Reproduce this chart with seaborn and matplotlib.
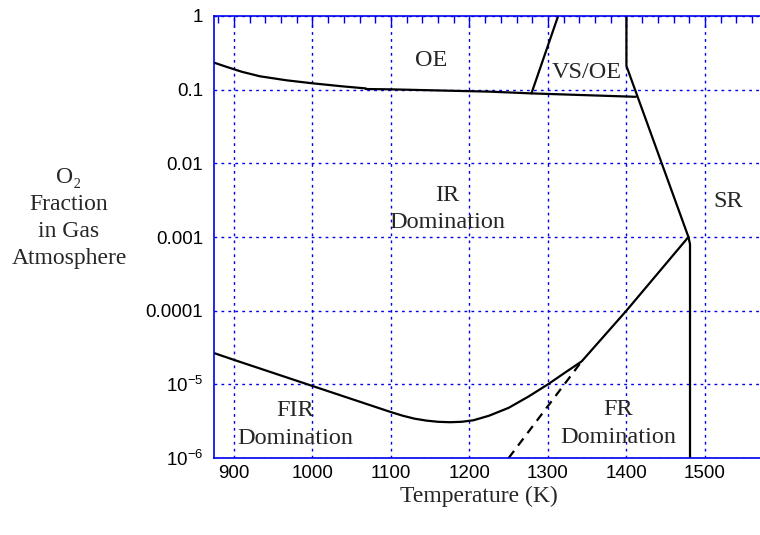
import numpy as np
import pandas as pd
import matplotlib
matplotlib.use("Agg")
import matplotlib.pyplot as plt
import matplotlib.ticker as mticker
import seaborn as sns

# ---- data ----
oe_low_T = [875, 890, 910, 933, 967, 1000, 1038, 1068]
oe_low_Y = [0.232, 0.205, 0.175, 0.152, 0.134, 0.122, 0.111, 0.104]
oe_high_T = [1068, 1100, 1226, 1279, 1412]
oe_high_Y = [0.102, 0.101, 0.094, 0.089, 0.080]
vs_T = [1279, 1313]
vs_Y = [0.089, 1.0]
sr_T = [1400, 1400, 1479, 1481, 1481]
sr_Y = [1.0, 0.21, 0.001, 0.0008, 1e-6]
fir_T = [875, 900, 1000, 1100, 1115, 1130, 1145, 1160, 1175, 1190, 1205, 1225,
         1250, 1275, 1300, 1320, 1343, 1400, 1479]
fir_Y = [2.65e-5, 2.15e-5, 9.5e-6, 4.2e-6, 3.75e-6, 3.42e-6, 3.22e-6, 3.1e-6,
         3.06e-6, 3.1e-6, 3.25e-6, 3.75e-6, 4.8e-6, 6.8e-6, 1.0e-5, 1.4e-5,
         2.05e-5, 1.0e-4, 1.0e-3]
fr_T = [1250, 1343]
fr_Y = [1e-6, 2.05e-5]

x_ticks = [900, 1000, 1100, 1200, 1300, 1400, 1500]
y_ticks = [1e-6, 1e-5, 1e-4, 1e-3, 1e-2, 1e-1, 1]
y_labels = [r"$10^{-6}$", r"$10^{-5}$", "0.0001", "0.001", "0.01", "0.1", "1"]

regions = [
    ("OE", 1151, 0.245),
    ("VS/OE", 1349, 0.170),
    ("IR\nDomination", 1172, 2.4e-3),
    ("SR", 1529, 3.0e-3),
    ("FIR\nDomination", 978, 2.85e-6),
    ("FR\nDomination", 1389, 2.95e-6),
]

sns.set_style("white")
plt.rcParams["mathtext.fontset"] = "custom"
plt.rcParams["mathtext.rm"] = "Liberation Sans"
plt.rcParams["mathtext.it"] = "Liberation Sans"
plt.rcParams["font.family"] = ["Liberation Sans", "DejaVu Sans"]

BLUE = "#0000ee"
SERIF = ["Liberation Serif", "DejaVu Serif"]

fig = plt.figure(figsize=(7.6, 5.35), dpi=100)
ax = fig.add_axes([214.3 / 760, 77 / 535, (1575 - 875) * 0.785 / 760, 442 / 535])

lw = 1.6
for T, Y in [(oe_low_T, oe_low_Y), (oe_high_T, oe_high_Y), (vs_T, vs_Y),
             (sr_T, sr_Y), (fir_T, fir_Y)]:
    df = pd.DataFrame({"T": T, "Y": Y})
    sns.lineplot(data=df, x="T", y="Y", ax=ax, color="black", lw=lw,
                 estimator=None, sort=False)
df = pd.DataFrame({"T": fr_T, "Y": fr_Y})
sns.lineplot(data=df, x="T", y="Y", ax=ax, color="black", lw=lw,
             estimator=None, sort=False, dashes=False, linestyle=(0, (4, 3)))

ax.set_yscale("log")
ax.set_xlim(875, 1575)
ax.set_ylim(1e-6, 1)

ax.set_xticks(x_ticks)
ax.xaxis.set_minor_locator(mticker.MultipleLocator(20))
ax.set_yticks(y_ticks)
ax.set_yticklabels(y_labels)
ax.yaxis.set_minor_locator(mticker.LogLocator(base=10, subs=np.arange(2, 10)))
ax.yaxis.set_minor_formatter(mticker.NullFormatter())

ax.tick_params(axis="both", which="both", direction="in", color=BLUE,
               top=True, right=False, labelsize=13.5, labelcolor="black")
ax.tick_params(axis="both", which="major", length=8, width=1)
ax.tick_params(axis="both", which="minor", length=5, width=1)
ax.tick_params(axis="x", which="major", pad=5)
ax.tick_params(axis="y", which="major", pad=8)

for s in ax.spines.values():
    s.set_color(BLUE)
    s.set_linewidth(1.2)

ax.grid(True, which="major", color=BLUE, linestyle=(0, (2, 3)), lw=1)
ax.set_xlabel("")
ax.set_ylabel("")

for txt, x, y in regions:
    ax.text(x, y, txt, ha="center", va="center", fontsize=17.5,
            family=SERIF, linespacing=1.4)

fig.text(479 / 760, 1 - 496 / 535, "Temperature (K)", ha="center", va="center",
         fontsize=17, family=SERIF)
fig.text(69 / 760, 1 - 218 / 535, "O\u2082\nFraction\nin Gas\nAtmosphere",
         ha="center", va="center", fontsize=17, family=SERIF,
         linespacing=1.38)

fig.savefig("out.png", dpi=100)
